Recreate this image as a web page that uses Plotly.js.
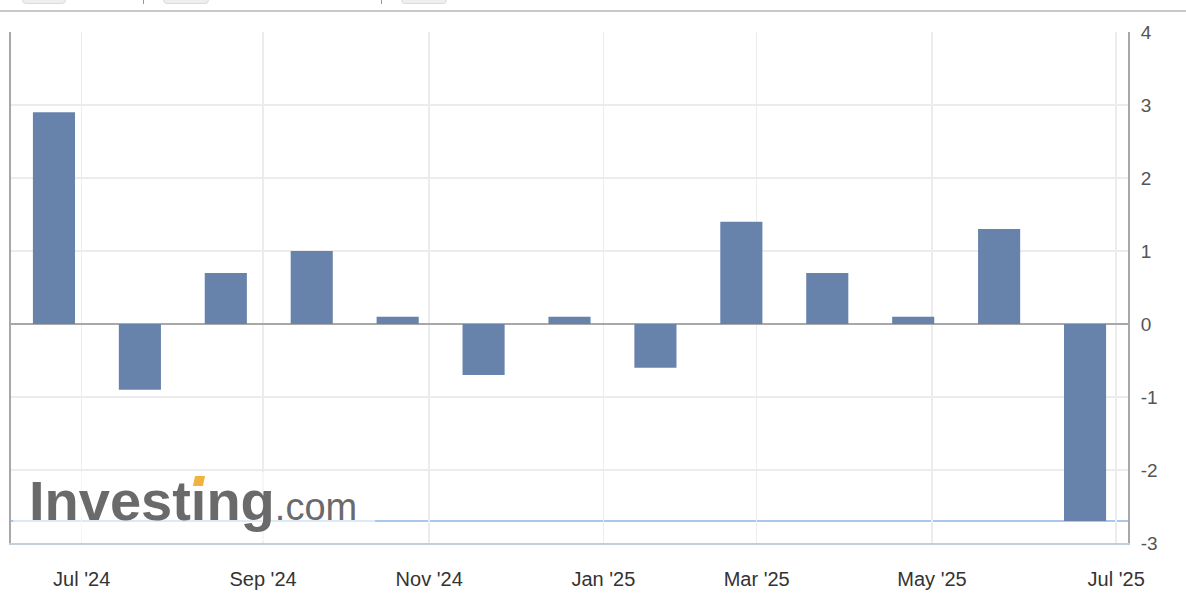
<!DOCTYPE html>
<html>
<head>
<meta charset="utf-8">
<script src="https://cdn.plot.ly/plotly-3.0.1.min.js"></script>
<style>
  html, body { margin: 0; padding: 0; background: #fff; }
  #wrap { position: relative; width: 1186px; height: 614px; overflow: hidden; }
  #chart { position: absolute; left: 0; top: 0; width: 1186px; height: 614px; }
  .topline { position: absolute; left: 0; top: 10px; width: 1186px; height: 2px; background: #c9c9c9; }
  .btn { position: absolute; top: -6px; height: 8px; background: #eeeeee; border: 1px solid #dcdcdc; border-radius: 4px; }
  .sep { position: absolute; top: 0; width: 1px; height: 4px; background: #999; }
  .tittle { position: absolute; background: #f2b240; transform: skewX(-12deg); }
</style>
</head>
<body>
<div id="wrap">
  <div id="chart"></div>
  <div class="topline"></div>
  <div class="btn" style="left:22px;width:42px"></div>
  <div class="sep" style="left:143px"></div>
  <div class="btn" style="left:163px;width:44px"></div>
  <div class="sep" style="left:381px"></div>
  <div class="btn" style="left:401px;width:44px"></div>
  <div class="tittle" style="left:194px;top:476px;width:10px;height:10px"></div>
</div>
<script>
// Release dates (ordinal axis: points evenly spaced) and values
const releaseDates = ['2024-06-21','2024-07-22','2024-08-19','2024-09-18','2024-10-21','2024-11-20',
                      '2024-12-19','2025-01-21','2025-02-24','2025-03-24','2025-04-24','2025-05-26','2025-06-20'];
const values = [2.9, -0.9, 0.7, 1.0, 0.1, -0.7, 0.1, -0.6, 1.4, 0.7, 0.1, 1.3, -2.7];
const tickDates = ['2024-07-01','2024-09-01','2024-11-01','2025-01-01','2025-03-01','2025-05-01','2025-07-01'];
const tickLabels = ["Jul '24","Sep '24","Nov '24","Jan '25","Mar '25","May '25","Jul '25"];
const yTicks = [-3, -2, -1, 0, 1, 2, 3, 4];

const t = releaseDates.map(d => new Date(d + 'T00:00:00Z').getTime());
const n = t.length;
const avg = (t[n-1] - t[0]) / (n - 1);
function ordinal(ds) {
  const v = new Date(ds + 'T00:00:00Z').getTime();
  if (v <= t[0]) return (v - t[0]) / avg;
  if (v >= t[n-1]) return (n - 1) + (v - t[n-1]) / avg;
  for (let i = 0; i < n - 1; i++) {
    if (v >= t[i] && v < t[i+1]) return i + (v - t[i]) / (t[i+1] - t[i]);
  }
  return n - 1;
}
const xIdx = releaseDates.map((_, i) => i);
const tickVals = tickDates.map(ordinal);

const trace = {
  type: 'bar',
  x: xIdx,
  y: values,
  width: 0.49,
  marker: { color: '#6782ab', line: { width: 0 } },
  hoverinfo: 'y'
};

const last = values[values.length - 1];

const layout = {
  width: 1186, height: 614,
  margin: { l: 11, r: 58, t: 32, b: 71, pad: 0 },
  paper_bgcolor: '#ffffff', plot_bgcolor: '#ffffff',
  showlegend: false,
  font: { family: 'Liberation Sans, Arial, sans-serif' },
  xaxis: {
    range: [-0.5, 12.5],
    tickmode: 'array', tickvals: tickVals, ticktext: tickLabels,
    showgrid: true, gridcolor: '#ececec', gridwidth: 1.5,
    zeroline: false,
    showline: true, linecolor: '#c3cedb', linewidth: 2,
    ticks: 'outside', ticklen: 17, tickcolor: 'rgba(0,0,0,0)',
    tickfont: { size: 20, color: '#333333' },
    fixedrange: true
  },
  yaxis: {
    side: 'right',
    range: [-3, 4],
    tickmode: 'array', tickvals: yTicks, ticktext: yTicks.map(String),
    showgrid: true, gridcolor: '#ececec', gridwidth: 1.5,
    zeroline: true, zerolinecolor: '#a8a8a8', zerolinewidth: 1.5,
    showline: true, linecolor: '#a8a8a8', linewidth: 2, mirror: true,
    ticks: 'outside', ticklen: 7, tickcolor: 'rgba(0,0,0,0)',
    tickfont: { size: 19, color: '#555555' },
    fixedrange: true
  },
  shapes: [
    { type: 'line', xref: 'paper', x0: 0, x1: 1, yref: 'y', y0: last, y1: last,
      line: { color: '#8ab6e4', width: 1.5 }, layer: 'below' },
    { type: 'rect', xref: 'paper', x0: 0.002, x1: 0.326, yref: 'y', y0: -2.98, y1: -2.03,
      fillcolor: 'rgba(255,255,255,0.6)', line: { width: 0 }, layer: 'above' }
  ],
  annotations: [
    { xref: 'paper', yref: 'y', x: 0.015, y: -2.86, xanchor: 'left', yanchor: 'bottom',
      text: '<b>Investing</b><span style="font-size:38px">.com</span>',
      showarrow: false,
      font: { family: 'Liberation Sans, Arial, sans-serif', size: 56, color: '#6a6a6a' },
      borderpad: 0 }
  ]
};

Plotly.newPlot('chart', [trace], layout, { displayModeBar: false, staticPlot: true });
</script>
</body>
</html>
